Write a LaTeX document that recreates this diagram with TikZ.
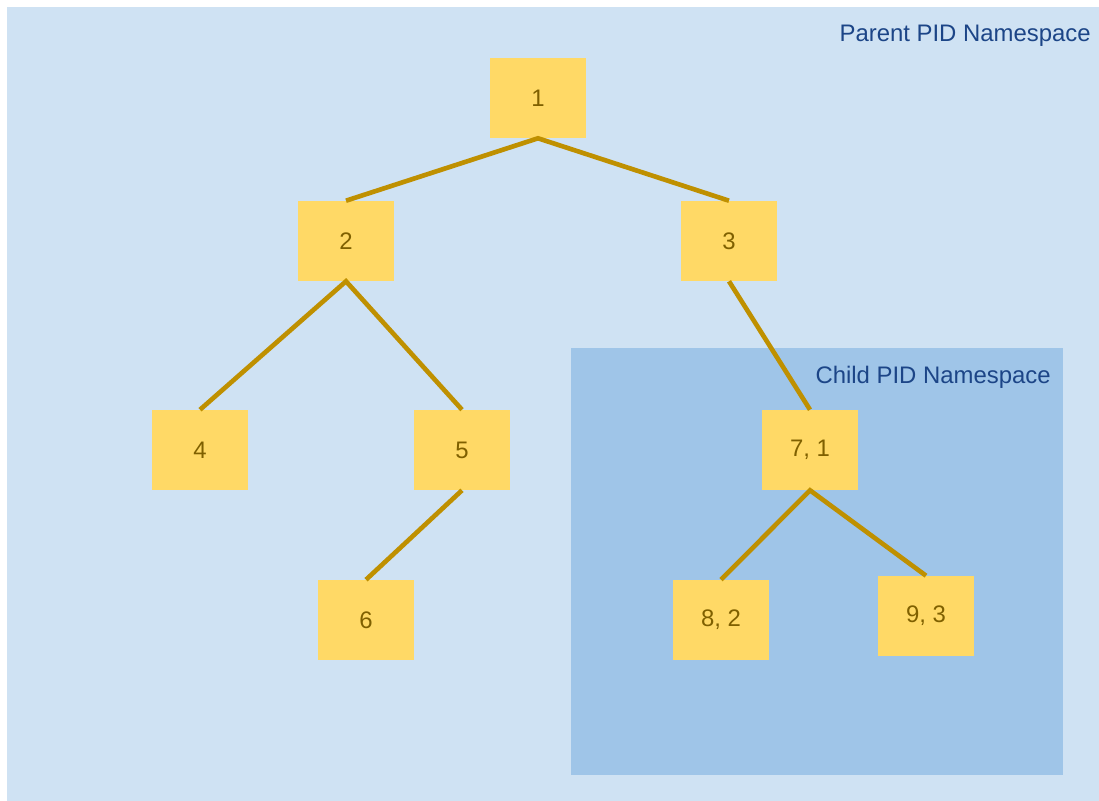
\documentclass[tikz,border=0pt]{standalone}
\usepackage{fontspec}
\setmainfont{Liberation Sans}
\definecolor{parentbg}{HTML}{CFE2F3}
\definecolor{childbg}{HTML}{9FC5E8}
\definecolor{pidfill}{HTML}{FFD966}
\definecolor{pidtext}{HTML}{7F6000}
\definecolor{pidline}{HTML}{BF9000}
\definecolor{nstext}{HTML}{1C4587}
\tikzset{
    pidbox/.style={fill=pidfill,text=pidtext,minimum width=2.4cm,minimum height=2cm,
        inner sep=0pt,font=\fontsize{17}{20}\selectfont},
    treeedge/.style={draw=pidline,line width=3.3pt},
    nslabel/.style={text=nstext,anchor=base east,inner sep=0pt,font=\fontsize{17}{20}\selectfont},
}

\begin{document}
\begin{tikzpicture}[x=0.025cm,y=-0.025cm]
            \useasboundingbox (0,0) rectangle (1099,801);
            \fill[white] (0,0) rectangle (1099,801);
            \fill[parentbg] (7,7) rectangle (1099,801);
            \fill[childbg] (571,348) rectangle (1063,775);
            \node[nslabel] (parentns) at (1091,42) {Parent PID Namespace};
            \node[nslabel] (childns) at (1051,383) {Child PID Namespace};
            % parent namespace
            \node[pidbox] (p1) at (538,98) {1};
            \node[pidbox] (p2) at (346,241) {2};
            \node[pidbox] (p3) at (729,241) {3};
            \node[pidbox] (p4) at (200,450) {4};
            \node[pidbox] (p5) at (462,450) {5};
            \node[pidbox] (p6) at (366,620) {6};
            % child namespace
            \node[pidbox] (p7) at (810,450) {7, 1};
            \node[pidbox] (p8) at (721,620) {8, 2};
            \node[pidbox] (p9) at (926,616) {9, 3};
            \draw[treeedge] (p2.north) -- (p1.south) -- (p3.north);
            \draw[treeedge] (p4.north) -- (p2.south) -- (p5.north);
            \draw[treeedge] (p5.south) -- (p6.north);
            \draw[treeedge] (p3.south) -- (p7.north);
            \draw[treeedge] (p8.north) -- (p7.south) -- (p9.north);
        \end{tikzpicture}
\end{document}
